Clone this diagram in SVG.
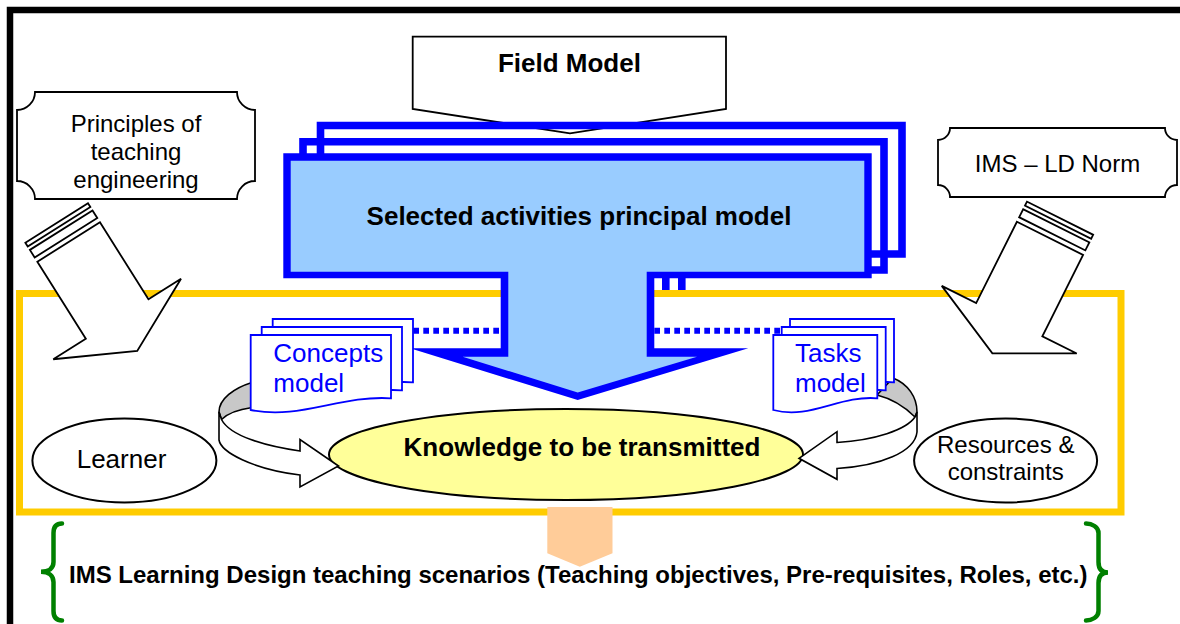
<svg xmlns="http://www.w3.org/2000/svg" width="1180" height="624" viewBox="0 0 1180 624">
<defs>
<style>
text{font-family:"Liberation Sans",Arial,Helvetica,sans-serif;fill:#000}
.b{font-weight:bold}
.blk{fill:#fff;stroke:#000;stroke-width:1.8}
.lay{fill:none;stroke:#0000ff;stroke-width:7.6}
.doc{fill:#fff;stroke:#0000ff;stroke-width:1.8}
.dt{fill:#0000ff;font-size:26px}
.dot{stroke:#0000ff;stroke-width:6;stroke-dasharray:5.7 4.3;fill:none}
.ell{stroke:#000;stroke-width:2}
.rib{fill:#fff;stroke:#000;stroke-width:1.6;stroke-linejoin:miter}
.gry{fill:#c8c8c8;stroke:#000;stroke-width:1.6}
.brace{fill:none;stroke:#008000;stroke-width:4.5;stroke-linecap:round}
</style>
</defs>
<rect x="10" y="10" width="1200" height="700" fill="#fff" stroke="#000" stroke-width="6.5"/>

<g id="field-model">
<path class="blk" d="M412.7,36.7 H726 V109 L570,133.3 L412.7,109 Z"/>
<text class="b" x="569.4" y="71.7" font-size="26" text-anchor="middle">Field Model</text>
</g>

<g id="activity-layers-back">
<path class="lay" d="M537,300 V254 H320.5 V125.5 H902 V254 H681.8 V300"/>
<path class="lay" d="M521,300 V270 H303 V141.7 H884 V270 H665.8 V300"/>
</g>

<g id="scenario-frame">
<rect x="19.5" y="293.5" width="1101.5" height="218.5" fill="#fff" stroke="#ffcc00" stroke-width="7"/>
</g>

<g id="principles">
<path class="blk" d="M35,92 H237 A18,18 0 0 0 255,110 V181 A18,18 0 0 0 237,199 H35 A18,18 0 0 0 17,181 V110 A18,18 0 0 0 35,92 Z"/>
<text x="136" y="132" font-size="24" text-anchor="middle">Principles of</text>
<text x="136" y="159.5" font-size="24" text-anchor="middle">teaching</text>
<text x="136" y="187.5" font-size="24" text-anchor="middle">engineering</text>
</g>

<g id="ims-ld-norm">
<path class="blk" d="M950,128 H1165 A12,12 0 0 0 1177,140 V185 A12,12 0 0 0 1165,197 H950 A12,12 0 0 0 938,185 V140 A12,12 0 0 0 950,128 Z"/>
<text x="1057.5" y="172" font-size="24" text-anchor="middle">IMS – LD Norm</text>
</g>

<g id="arrow-principles" transform="translate(68.65,242) rotate(-32.2)">
<rect class="blk" x="-37" y="-22.5" width="74" height="4.5"/>
<rect class="blk" x="-37" y="-14" width="74" height="9"/>
<path class="blk" d="M-37,0 H37 V91 H75.5 L0,128.7 L-75.5,91 H-37 Z"/>
</g>

<g id="arrow-ims" transform="translate(1050,238.3) rotate(26.6)">
<rect class="blk" x="-37" y="-22.5" width="74" height="4.5"/>
<rect class="blk" x="-37" y="-14" width="74" height="9"/>
<path class="blk" d="M-37,0 H37 V91 H75.5 L0,128.7 L-75.5,91 H-37 Z"/>
</g>

<g id="selected-activities">
<path fill="#0000ff" d="M283.3,153.3 H871.7 V278.3 H654.3 V348.3 H748.3 L577.7,400 L410,348.3 H500.7 V278.3 H283.3 Z"/>
<path fill="#99ccff" d="M290.7,160.7 H864.3 V271.7 H646.7 V356.7 H697 L577.7,392.4 L462.6,356.7 H508.3 V271.7 H290.7 Z"/>
<text class="b" x="579" y="225" font-size="26" text-anchor="middle">Selected activities principal model</text>
</g>

<g id="knowledge">
<ellipse class="ell" cx="566" cy="454.5" rx="237" ry="45.5" fill="#ffff99"/>
<text class="b" x="582" y="456" font-size="26" text-anchor="middle">Knowledge to be transmitted</text>
</g>

<g id="learner">
<ellipse class="ell" cx="124.4" cy="460.5" rx="92" ry="42" fill="#fff"/>
<text x="121.5" y="468.3" font-size="26" text-anchor="middle">Learner</text>
</g>

<g id="resources">
<ellipse class="ell" cx="1005.6" cy="460.5" rx="91.5" ry="42" fill="#fff"/>
<text x="1005.7" y="453.3" font-size="24" text-anchor="middle">Resources &amp;</text>
<text x="1005.7" y="480" font-size="24" text-anchor="middle">constraints</text>
</g>

<g id="connectors">
<path class="gry" d="M252,382.5 C234,388 219,399 219,412 L221.5,419.5 C227,414 238,409.5 252,407.5 Z"/>
<path class="rib" d="M219,412 V440 C221,452 252,469 300,475 V487 L338.5,466 L300,439.5 V451 C265,446 230,436 221.5,419.5 Z"/>
<path class="gry" d="M893,378 C908,384 917,397 917,412 L915,417 C905,407 893,399 877,395 Z"/>
<path class="rib" d="M917,412 V432 C915,452 880,466 837,468.5 V479.3 L799,458.3 L837,431.7 V442.5 C875,440 906,430 915,417 Z"/>
<path class="dot" d="M413.3,330.8 H500.7"/>
<path class="dot" d="M654.3,330.8 H781.7"/>
</g>

<g id="concepts-model">
<path class="doc" d="M272.7,319 H413 V382.3 C362,379 322,404 272.7,394 Z"/>
<path class="doc" d="M261.7,327 H402 V390.3 C351,387 311,412 261.7,402 Z"/>
<path class="doc" d="M250.7,335 H391 V398.3 C340,395 300,420 250.7,410 Z"/>
<text class="dt" x="273.3" y="361.7">Concepts</text>
<text class="dt" x="273.3" y="391.7">model</text>
</g>

<g id="tasks-model">
<path class="doc" d="M790,319 H894 V382.3 C856.2,379 826.5,404 790,394 Z"/>
<path class="doc" d="M781.7,327 H885.7 V390.3 C847.9,387 818.2,412 781.7,402 Z"/>
<path class="doc" d="M773.3,335 H877.3 V398.3 C839.5,395 809.8,420 773.3,410 Z"/>
<text class="dt" x="795" y="361.7">Tasks</text>
<text class="dt" x="795" y="391.7">model</text>
</g>

<g id="output-arrow">
<path fill="#ffcc99" d="M547.3,507 H612.5 V553.3 L579.8,566.7 L547.3,553.3 Z"/>
</g>

<g id="scenarios">
<path class="brace" d="M62,523.5 C56,523.5 53.5,527 53.5,533 V562 C53.5,568 49,571.8 41,571.8 C49,571.8 53.5,576 53.5,582 V611 C53.5,617 56,620.5 62,620.5"/>
<path class="brace" d="M1086,523.5 C1092,523.5 1098.5,527 1098.5,533 V562 C1098.5,568 1101,572.5 1108,572.5 C1101,572.5 1098.5,577 1098.5,583 V611 C1098.5,617 1092,620.5 1086,620.5"/>
<text class="b" x="69" y="583" font-size="24">IMS Learning Design teaching scenarios (Teaching objectives, Pre-requisites, Roles, etc.)</text>
</g>
</svg>
